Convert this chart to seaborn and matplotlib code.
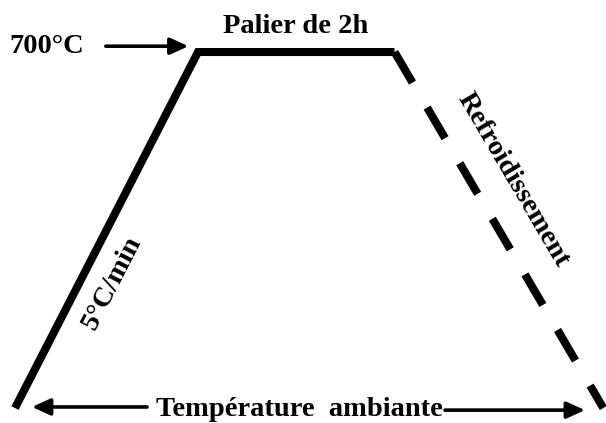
import numpy as np
import pandas as pd
import matplotlib.pyplot as plt
import seaborn as sns

# Cycle thermique (schéma) : montée 5°C/min, palier, refroidissement
temps = [0, 135, 280, 434]          # min (schématique)
temperature = [25, 700, 700, 25]    # °C
t_ambiante = 25
t_palier = 700

sns.set_theme(style='white')
plt.rcParams['font.family'] = ['Liberation Serif', 'DejaVu Serif']
plt.rcParams['font.weight'] = 'bold'
plt.rcParams['text.color'] = 'black'

df = pd.DataFrame({'temps': temps, 'temperature': temperature})
montee = df.iloc[:3]
descente = df.iloc[2:]

fig = plt.figure(figsize=(6.06, 4.23), dpi=100)
ax = fig.add_axes([0, 0, 1, 1])

lw = 5.8
sns.lineplot(data=montee, x='temps', y='temperature', color='black', lw=lw,
             solid_joinstyle='miter', solid_capstyle='butt', ax=ax)
sns.lineplot(data=descente, x='temps', y='temperature', color='black', lw=lw,
             linestyle=(0, (4.4, 3.6)), dash_capstyle='butt', ax=ax)

ax.set_xlim(-11.07, 436.0)
ax.set_ylim(-3.4, 798.6)
ax.set_axis_off()


def px(x, y):
    # position en fraction de figure depuis des pixels (origine en haut à gauche)
    return x / 606, 1 - y / 423


fs = 20.5
arrow = dict(arrowstyle='-|>,head_length=0.55,head_width=0.25', color='black',
             lw=2.6, mutation_scale=20, shrinkA=0, shrinkB=0)

# 700°C
ax.text(*px(9, 53), '700°C', transform=ax.transAxes, fontsize=fs,
        ha='left', va='baseline', fontweight='bold', color='black')
ax.annotate('', xy=(temps[1] - 7, t_palier + 11), xytext=(67, t_palier + 11),
            arrowprops=arrow)

# Palier
ax.text(*px(296, 33), 'Palier de 2h', transform=ax.transAxes, fontsize=fs,
        ha='center', va='baseline', fontweight='bold', color='black')

# Rampe
ax.text(*px(112, 283), '5°C/min', transform=ax.transAxes, fontsize=fs,
        ha='center', va='center', rotation=62.8, rotation_mode='anchor',
        fontweight='bold', color='black')

# Refroidissement
ax.text(*px(513, 180), 'Refroidissement', transform=ax.transAxes, fontsize=fs,
        ha='center', va='center', rotation=-59.6, rotation_mode='anchor',
        fontweight='bold', color='black')

# Température ambiante
ax.text(*px(299, 416), 'Température  ambiante', transform=ax.transAxes,
        fontsize=fs, ha='center', va='baseline', fontweight='bold', color='black')
ax.annotate('', xy=(temps[0] + 12.5, t_ambiante + 2), xytext=(97.4, t_ambiante + 2),
            arrowprops=arrow)
ax.annotate('', xy=(420.5, t_ambiante - 4), xytext=(317.2, t_ambiante - 4),
            arrowprops=arrow)

fig.savefig('out.png', dpi=100)
